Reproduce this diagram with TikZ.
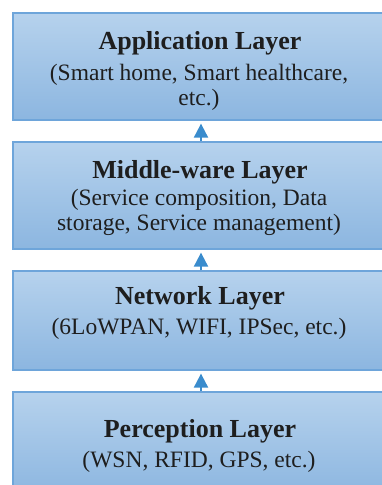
\documentclass[tikz,border=0pt]{standalone}
\usepackage{fontspec}
\setmainfont{Liberation Serif}
\usetikzlibrary{arrows.meta}
\definecolor{boxtop}{RGB}{182,210,237}
\definecolor{boxbot}{RGB}{140,182,224}
\definecolor{boxline}{RGB}{110,165,218}
\definecolor{arrowblue}{RGB}{58,140,205}
\definecolor{txt}{RGB}{30,30,30}
\tikzset{
  layer/.style={rectangle, draw=boxline, line width=1.3pt, top color=boxtop, bottom color=boxbot, inner sep=0pt, minimum width=377pt},
  ttl/.style={anchor=base, font=\fontsize{26}{30}\selectfont\bfseries, text=txt, inner sep=0pt},
  sub/.style={anchor=base, font=\fontsize{23.5}{27}\selectfont, text=txt, inner sep=0pt},
  uparrow/.style={draw=arrowblue, line width=2pt, -{Triangle[width=14pt,length=14pt]}, shorten >=3pt}
}
\begin{document}
\begin{tikzpicture}[x=1pt,y=1pt]
\useasboundingbox (0,0) rectangle (382,485);
\clip (0,0) rectangle (382,485);
\fill[white] (0,0) rectangle (382,485);
% boxes
\node[layer, minimum height=107pt] (b1) at (201.5,418.5) {};
\node[layer, minimum height=107pt] (b2) at (201.5,289.5) {};
\node[layer, minimum height=99pt] (b3) at (201.5,164.5) {};
\node[layer, minimum height=103pt] (b4) at (201.5,41.5) {};
% texts
\node[ttl] (t1) at (200,435) {Application Layer};
\node[sub] (s1a) at (199,404) {(Smart home, Smart healthcare,};
\node[sub] (s1b) at (199,379) {etc.)};
\node[ttl] (t2) at (200,306) {Middle-ware Layer};
\node[sub] (s2a) at (199,279) {(Service composition, Data};
\node[sub] (s2b) at (199,254) {storage, Service management)};
\node[ttl] (t3) at (200,180) {Network Layer};
\node[sub] (s3a) at (199,150) {(6LoWPAN, WIFI, IPSec, etc.)};
\node[ttl] (t4) at (200,47) {Perception Layer};
\node[sub] (s4a) at (199,17) {(WSN, RFID, GPS, etc.)};
% arrows
\coordinate (ax) at (201,0);
\draw[uparrow] (b2.north -| ax) -- (b1.south -| ax);
\draw[uparrow] (b3.north -| ax) -- (b2.south -| ax);
\draw[uparrow] (b4.north -| ax) -- (b3.south -| ax);
\end{tikzpicture}
\end{document}
